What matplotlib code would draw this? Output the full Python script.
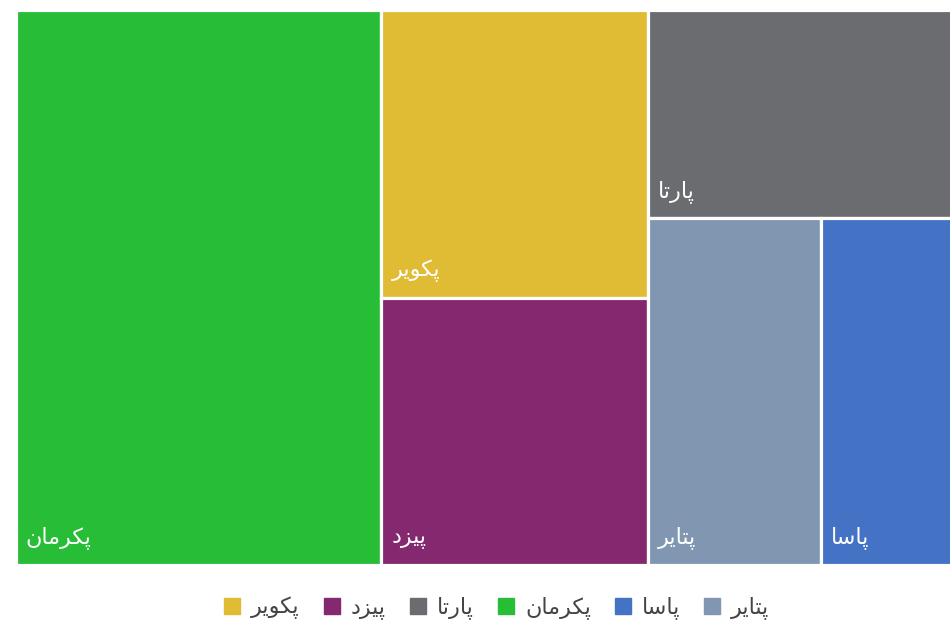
import matplotlib
matplotlib.use("Agg")
import matplotlib.pyplot as plt
from matplotlib.patches import Rectangle
from matplotlib.lines import Line2D

# data
names = ["پکرمان", "پکویر", "پیزد", "پارتا", "پتایر", "پاسا"]
values = [391, 148, 137, 122, 115, 87]
colors = ["#28BD37", "#E0BC35", "#84286F", "#6B6C70", "#8197B1", "#4472C4"]
legend_order = ["پکویر", "پیزد", "پارتا", "پکرمان", "پاسا", "پتایر"]

# matplotlib has no arabic shaping, so pick presentation forms by hand
FORMS = {
    "پ": (0xFB56, 0xFB57, 0xFB58, 0xFB59),
    "ک": (0xFB8E, 0xFB8F, 0xFB90, 0xFB91),
    "ی": (0xFBFC, 0xFBFD, 0xFBFE, 0xFBFF),
    "م": (0xFEE1, 0xFEE2, 0xFEE3, 0xFEE4),
    "ن": (0xFEE5, 0xFEE6, 0xFEE7, 0xFEE8),
    "ت": (0xFE95, 0xFE96, 0xFE97, 0xFE98),
    "س": (0xFEB1, 0xFEB2, 0xFEB3, 0xFEB4),
    "ر": (0xFEAD, 0xFEAE),
    "ز": (0xFEAF, 0xFEB0),
    "د": (0xFEA9, 0xFEAA),
    "ا": (0xFE8D, 0xFE8E),
    "و": (0xFEED, 0xFEEE),
}


def shape(word):
    out = []
    for i, ch in enumerate(word):
        f = FORMS.get(ch)
        if f is None:
            out.append(ch)
            continue
        prev = word[i - 1] if i > 0 else None
        nxt = word[i + 1] if i + 1 < len(word) else None
        join_prev = prev in FORMS and len(FORMS[prev]) == 4
        join_next = len(f) == 4 and nxt in FORMS
        if join_prev and join_next:
            k = 3
        elif join_prev:
            k = 1
        elif join_next:
            k = 2
        else:
            k = 0
        out.append(chr(f[k]))
    return "".join(reversed(out))


def worst(row, side):
    s = sum(row)
    return max(max(side * side * r / (s * s), s * s / (side * side * r)) for r in row)


def squarify(vals, x, y, w, h):
    total = sum(vals)
    areas = [v * w * h / total for v in vals]
    rects = []
    i = 0
    while i < len(areas):
        side = min(w, h)
        row = [areas[i]]
        i += 1
        while i < len(areas):
            if i == len(areas) - 1 or worst(row + [areas[i]], side) <= worst(row, side):
                row.append(areas[i])
                i += 1
            else:
                break
        s = sum(row)
        if w >= h:
            cw = s / h
            cy = y
            for a in row:
                rects.append((x, cy, cw, a / cw))
                cy += a / cw
            x += cw
            w -= cw
        else:
            ch = s / w
            cx = x
            for a in row:
                rects.append((cx, y, a / ch, ch))
                cx += a / ch
            y += ch
            h -= ch
    return rects


W, H = 936, 555
fig = plt.figure(figsize=(9.5, 6.24), dpi=100)
ax = fig.add_axes([15.5 / 950, 1 - 564.5 / 624, W / 950, H / 624])
ax.set_xlim(0, W)
ax.set_ylim(H, 0)
ax.axis("off")

for (rx, ry, rw, rh), name, c in zip(squarify(values, 0, 0, W, H), names, colors):
    ax.add_patch(Rectangle((rx, ry), rw, rh, facecolor=c, edgecolor="white", linewidth=2.3))
    ax.text(rx + 10, ry + rh - 27, shape(name), color="white", fontsize=16,
            family="DejaVu Sans", ha="left", va="center")

handles = [Line2D([], [], marker="s", linestyle="", markersize=11,
                  color=colors[names.index(n)]) for n in legend_order]
fig.legend(handles, [shape(n) for n in legend_order], loc="center",
           bbox_to_anchor=(497 / 950, 0.026), ncol=6, frameon=False,
           handlelength=0.7, handletextpad=0.5, columnspacing=1.1,
           prop={"family": "DejaVu Sans", "size": 16}, labelcolor="#444444")

fig.savefig("out.png", dpi=100)
